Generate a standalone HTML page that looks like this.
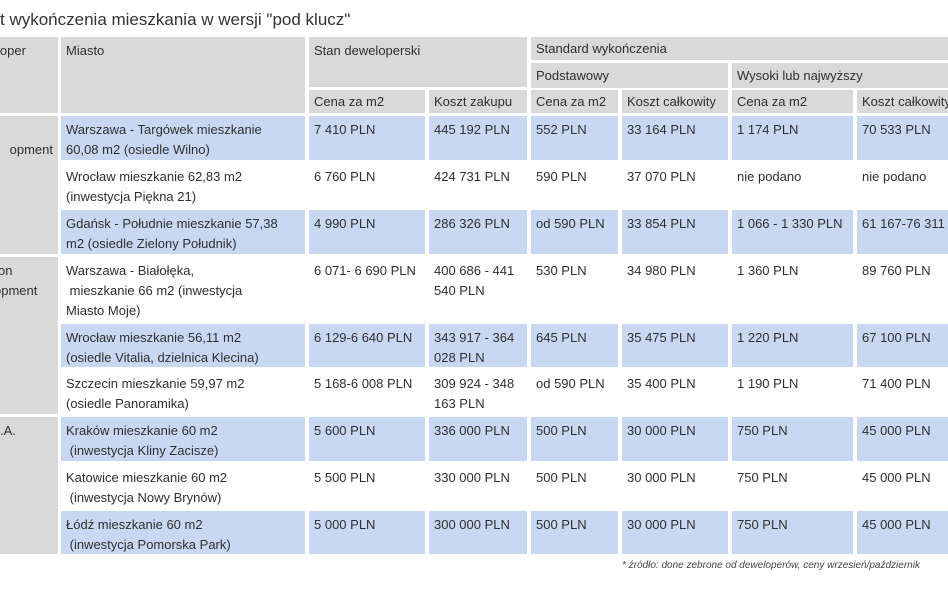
<!DOCTYPE html>
<html><head><meta charset="utf-8"><style>
body{margin:0;width:948px;height:593px;overflow:hidden;background:#fff;font-family:"Liberation Sans",sans-serif;color:#333;position:relative}
.c{position:absolute;box-sizing:border-box;padding:4px 0 0 5px;font-size:13px;line-height:20px;white-space:nowrap;overflow:hidden;color:#2f2f2f}
.g{background:#d9d9d9}.b{background:#c9d8f2}.w{background:#fff}
.r{text-align:right;padding:4px 5px 0 0}
</style></head><body>
<div style="position:absolute;left:0;top:10px;font-size:17px;color:#333;white-space:nowrap">t wykończenia mieszkania w wersji "pod klucz"</div>
<div>
<div class="c g r" style="left:0;top:37px;width:58px;height:76px;text-align:left;padding-left:0"><span style="margin-left:-3px">loper</span></div>
<div class="c g" style="left:61px;top:37px;width:244px;height:76px">Miasto</div>
<div class="c g" style="left:309px;top:37px;width:218px;height:50px">Stan deweloperski</div>
<div class="c g" style="left:531px;top:37px;width:417px;height:23px;padding-top:2px">Standard wykończenia</div>
<div class="c g" style="left:531px;top:63px;width:197px;height:25px;padding-top:3px">Podstawowy</div>
<div class="c g" style="left:732px;top:63px;width:216px;height:25px;padding-top:3px">Wysoki lub najwyższy</div>
<div class="c g" style="left:309px;top:90px;width:116px;height:23px;padding-top:2px">Cena za m2</div>
<div class="c g" style="left:429px;top:90px;width:98px;height:23px;padding-top:2px">Koszt zakupu</div>
<div class="c g" style="left:531px;top:90px;width:87px;height:23px;padding-top:2px">Cena za m2</div>
<div class="c g" style="left:622px;top:90px;width:106px;height:23px;padding-top:2px">Koszt całkowity</div>
<div class="c g" style="left:732px;top:90px;width:121px;height:23px;padding-top:2px">Cena za m2</div>
<div class="c g" style="left:857px;top:90px;width:91px;height:23px;padding-top:2px">Koszt całkowity</div>

<div class="c g r" style="left:0;top:116px;width:58px;height:138px"><br>opment</div>
<div class="c g" style="left:0;top:257px;width:58px;height:157px;padding-left:0"><span style="margin-left:-2px">on</span><br><span style="margin-left:-6px">opment</span></div>
<div class="c g" style="left:0;top:417px;width:58px;height:137px;padding-left:0">.A.</div>
</div>
<div id="rows"></div>
<div style="position:absolute;left:622px;top:560px;font-size:10px;font-style:italic;color:#444;white-space:nowrap">* źródło: done zebrone od deweloperów, ceny wrzesień/październik</div>
<script>
const rowTops=[116,163,210,257,324,370,417,464,511];
const rowHeights=[44,44,44,64,43,44,44,44,43];
const rowColors=['b','w','b','w','b','w','b','w','b'];
const colLefts=[61,309,429,531,622,732,857];
const colWidths=[244,116,98,87,106,121,91];
const cities=['Warszawa - Targówek mieszkanie<br>60,08 m2 (osiedle Wilno)','Wrocław mieszkanie 62,83 m2<br>(inwestycja Piękna 21)','Gdańsk - Południe mieszkanie 57,38<br>m2 (osiedle Zielony Południk)','Warszawa - Białołęka,<br>&nbsp;mieszkanie 66 m2 (inwestycja<br>Miasto Moje)','Wrocław mieszkanie 56,11 m2<br>(osiedle Vitalia, dzielnica Klecina)','Szczecin mieszkanie 59,97 m2<br>(osiedle Panoramika)','Kraków mieszkanie 60 m2<br>&nbsp;(inwestycja Kliny Zacisze)','Katowice mieszkanie 60 m2<br>&nbsp;(inwestycja Nowy Brynów)','Łódź mieszkanie 60 m2<br>&nbsp;(inwestycja Pomorska Park)'];
const devPrice=['7 410 PLN','6 760 PLN','4 990 PLN','6 071- 6 690 PLN','6 129-6 640 PLN','5 168-6 008 PLN','5 600 PLN','5 500 PLN','5 000 PLN'];
const purchase=['445 192 PLN','424 731 PLN','286 326 PLN','400 686 - 441<br>540 PLN','343 917 - 364<br>028 PLN','309 924 - 348<br>163 PLN','336 000 PLN','330 000 PLN','300 000 PLN'];
const basicPrice=['552 PLN','590 PLN','od 590 PLN','530 PLN','645 PLN','od 590 PLN','500 PLN','500 PLN','500 PLN'];
const basicTotal=['33 164 PLN','37 070 PLN','33 854 PLN','34 980 PLN','35 475 PLN','35 400 PLN','30 000 PLN','30 000 PLN','30 000 PLN'];
const highPrice=['1 174 PLN','nie podano','1 066 - 1 330 PLN','1 360 PLN','1 220 PLN','1 190 PLN','750 PLN','750 PLN','750 PLN'];
const highTotal=['70 533 PLN','nie podano','61 167-76 311 PLN','89 760 PLN','67 100 PLN','71 400 PLN','45 000 PLN','45 000 PLN','45 000 PLN'];
const colNames=['city','dev-price-m2','purchase-cost','basic-price-m2','basic-total','high-price-m2','high-total'];
const cols=[cities,devPrice,purchase,basicPrice,basicTotal,highPrice,highTotal];
const host=document.getElementById('rows');
for(let r=0;r<rowTops.length;r++){
  for(let c=0;c<cols.length;c++){
    const d=document.createElement('div');
    d.className='c '+rowColors[r];
    
    
    d.style.left=colLefts[c]+'px';d.style.top=rowTops[r]+'px';
    d.style.width=colWidths[c]+'px';d.style.height=rowHeights[r]+'px';
    d.innerHTML=cols[c][r];
    host.appendChild(d);
  }
}
</script>
</body></html>
